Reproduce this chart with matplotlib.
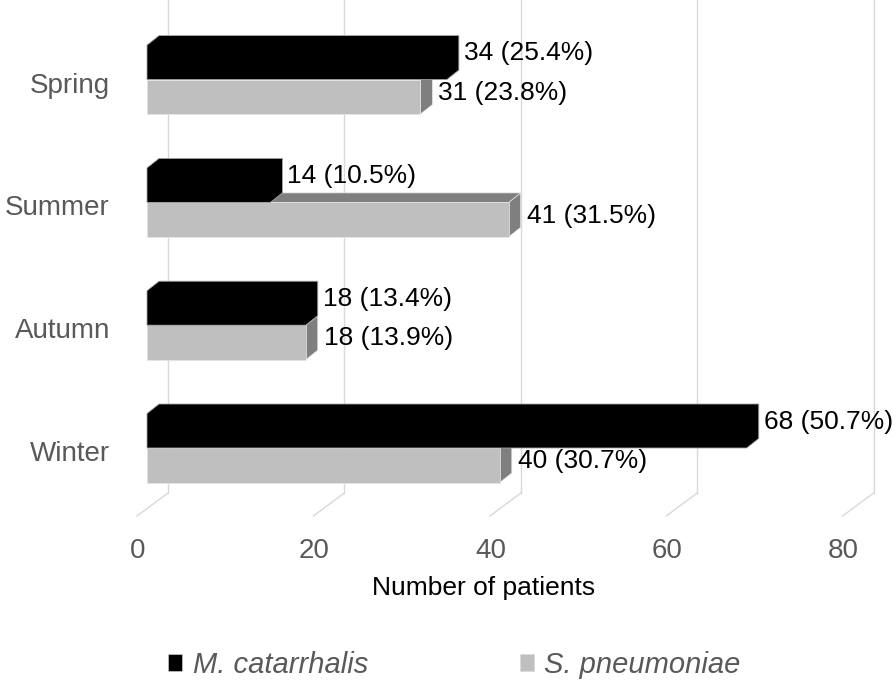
import matplotlib
matplotlib.use("Agg")
import matplotlib.pyplot as plt
from matplotlib.patches import Polygon, Patch

plt.rcParams['font.family'] = ['Liberation Sans', 'DejaVu Sans']

# data
seasons = ['Spring', 'Summer', 'Autumn', 'Winter']
m_cat = [34, 14, 18, 68]
m_cat_pct = [25.4, 10.5, 13.4, 50.7]
s_pneu = [31, 41, 18, 40]
s_pneu_pct = [23.8, 31.5, 13.9, 30.7]
ticks = [0, 20, 40, 60, 80]
series_names = ['M. catarrhalis', 'S. pneumoniae']

BLACK = '#000000'
LIGHT = '#bfbfbf'
DARK = '#7f7f7f'
TEXT_GRAY = '#595959'
GRID = '#d9d9d9'

# pixel geometry of the fake 3-D view
W, H = 896, 681
X0, Y0 = 147, 448          # pixel of value 0 / boundary of lowest category
PPV, PPC = 8.82, 122.8     # pixels per value unit / per category step


def dx(px):
    return px / PPV


def dy(px):
    return px / PPC


fig = plt.figure(figsize=(W / 100, H / 100), dpi=100)
ax = fig.add_axes([0, 0, 1, 1])
ax.set_xlim(-X0 / PPV, (W - X0) / PPV)
ax.set_ylim((Y0 - H) / PPC, Y0 / PPC)
ax.axis('off')

# gridlines on back wall + floor
for v in ticks:
    xb = v + dx(21)
    ax.plot([xb, xb], [dy(Y0 - 493), Y0 / PPC + 0.1], color=GRID, lw=1.0, zorder=1)
    ax.plot([xb, v - dx(10)], [dy(Y0 - 493), dy(Y0 - 516)], color=GRID, lw=1.0, zorder=1)
    ax.text(v - dx(9), dy(Y0 - 551), str(v), ha='center', va='center',
            fontsize=20, color=TEXT_GRAY)

h = dy(34.5)
ddx, ddy = dx(12), dy(9.5)


def bar3d(v, y0, y1, front, shade, edge, z):
    if front == shade:
        # single-colour bar: draw its outline as one shape, no inner seams
        pts = [(0, y0), (v, y0), (v + ddx, y0 + ddy), (v + ddx, y1 + ddy),
               (ddx, y1 + ddy), (0, y1)]
        ax.add_patch(Polygon(pts, closed=True, facecolor=front, edgecolor=edge,
                             lw=0.6, zorder=z))
        return
    faces = [
        ([(v, y0), (v + ddx, y0 + ddy), (v + ddx, y1 + ddy), (v, y1)], shade),
        ([(0, y1), (v, y1), (v + ddx, y1 + ddy), (ddx, y1 + ddy)], shade),
        ([(0, y0), (v, y0), (v, y1), (0, y1)], front),
    ]
    for pts, col in faces:
        ax.add_patch(Polygon(pts, closed=True, facecolor=col, edgecolor=edge,
                             lw=0.5, zorder=z))


n = len(seasons)
for i, s in enumerate(seasons):
    c = n - 1 - i
    # gray series first so the black bar hides its top face
    bar3d(s_pneu[i], c - h, c, LIGHT, DARK, '#e6e6e6', 3 + i * 2)
    bar3d(m_cat[i], c, c + h, BLACK, BLACK, '#a6a6a6', 4 + i * 2)

    ax.text(m_cat[i] + ddx + dx(5), c + h / 2 + dy(9),
            f'{m_cat[i]} ({m_cat_pct[i]}%)', ha='left', va='center',
            fontsize=19, color='black', zorder=20)
    ax.text(s_pneu[i] + ddx + dx(6), c - h / 2 + dy(4),
            f'{s_pneu[i]} ({s_pneu_pct[i]}%)', ha='left', va='center',
            fontsize=19, color='black', zorder=20)

    ax.text(dx(110 - X0), c - dy(6), s, ha='right', va='center',
            fontsize=20, color=TEXT_GRAY)

ax.text(dx(484 - X0), dy(Y0 - 588), 'Number of patients', ha='center',
        va='center', fontsize=19, color='black')

handles = [Patch(facecolor=BLACK, edgecolor=GRID, lw=0.4),
           Patch(facecolor=LIGHT, edgecolor=GRID, lw=0.4)]
fig.legend(handles, series_names, loc='center', bbox_to_anchor=(0.507, 1 - 665 / H),
           ncol=2, frameon=False, handlelength=0.5, handleheight=0.5,
           handletextpad=0.35, columnspacing=5.2,
           prop={'style': 'italic', 'size': 21}, labelcolor=TEXT_GRAY)

fig.savefig('out.png', dpi=100)
